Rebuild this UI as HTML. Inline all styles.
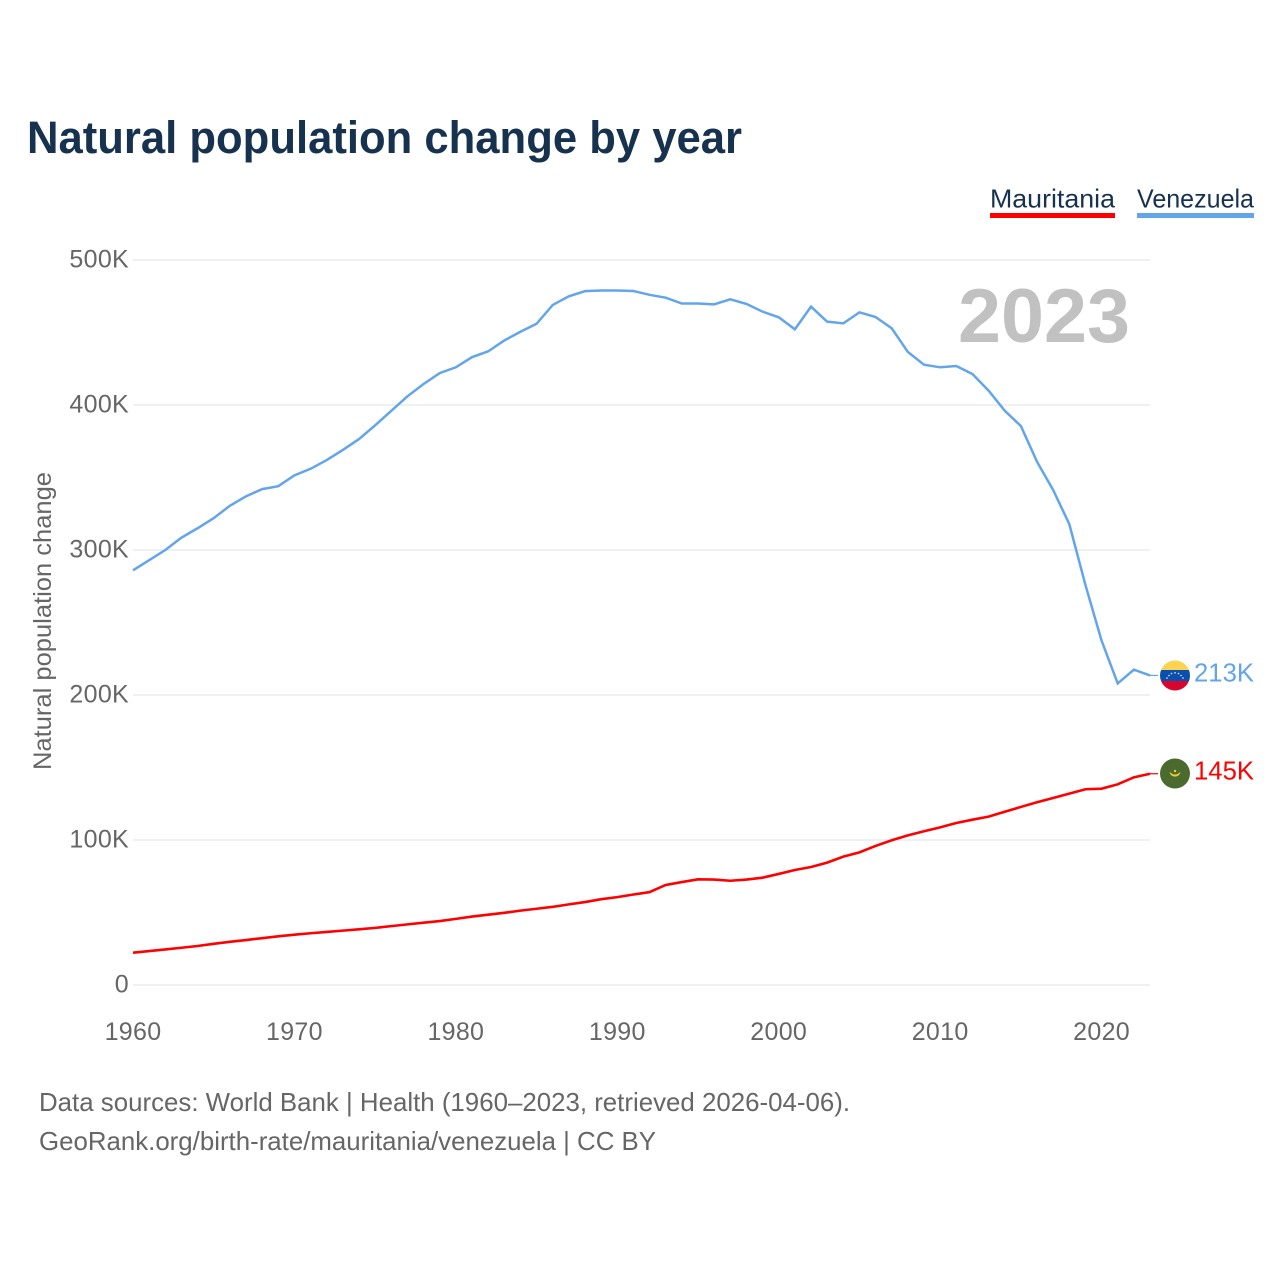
<!DOCTYPE html>
<html lang="en">
<head>
<meta charset="utf-8">
<title>Natural population change by year</title>
<style>
html,body{margin:0;padding:0;background:#fff;}
svg{display:block;font-family:"Liberation Sans",sans-serif;}
.tick{font-size:25px;fill:#666;letter-spacing:.3px;}
</style>
</head>
<body>
<svg id="chart" width="1280" height="1280" viewBox="0 0 1280 1280" xmlns="http://www.w3.org/2000/svg">
  <defs>
    <clipPath id="clip-ve"><circle cx="1175" cy="675.5" r="15"></circle></clipPath>
  </defs>
  <rect x="0" y="0" width="1280" height="1280" fill="#fff"></rect>
  <text x="27" y="153" font-size="45" font-weight="700" fill="#17324f" textLength="715" lengthAdjust="spacingAndGlyphs">Natural population change by year</text>

  <g id="grid"></g>
  <g id="yticks"></g>
  <g id="xticks"></g>
  <text transform="translate(51,770) rotate(-90)" font-size="25" fill="#666" textLength="298" lengthAdjust="spacingAndGlyphs">Natural population change</text>

  <text x="1130" y="342" text-anchor="end" font-size="76" font-weight="700" fill="#c1c1c1" textLength="172" lengthAdjust="spacingAndGlyphs">2023</text>

  <g id="series"></g>

  <g>
    <text x="990" y="207.5" font-size="26" fill="#17324f" textLength="125" lengthAdjust="spacingAndGlyphs">Mauritania</text>
    <rect x="990" y="213" width="125" height="5" fill="#ff0000"></rect>
  </g>
  <g>
    <text x="1137" y="207.5" font-size="26" fill="#17324f" textLength="117" lengthAdjust="spacingAndGlyphs">Venezuela</text>
    <rect x="1137" y="213" width="117" height="5" fill="#62a5eb"></rect>
  </g>

  <g clip-path="url(#clip-ve)">
    <rect x="1160" y="660" width="30" height="10.5" fill="#fcd450"></rect>
    <rect x="1160" y="670" width="30" height="11" fill="#0a4fb0"></rect>
    <rect x="1160" y="681" width="30" height="11" fill="#d8062f"></rect>
    <g fill="#e8f0fa">
      <circle cx="1167" cy="678" r=".8"></circle><circle cx="1169" cy="675.5" r=".8"></circle>
      <circle cx="1171.5" cy="673.5" r=".8"></circle><circle cx="1175" cy="672.8" r=".8"></circle>
      <circle cx="1178.5" cy="673.5" r=".8"></circle><circle cx="1181" cy="675.5" r=".8"></circle>
      <circle cx="1183" cy="678" r=".8"></circle>
    </g>
  </g>
  <g>
    <circle cx="1175" cy="773.5" r="15" fill="#4a6b2d"></circle>
    <path d="M1170 772.5a5.2 5.2 0 0 0 10 0a6.5 6.5 0 0 1 -10 0z" fill="#eccb3c" stroke="#eccb3c" stroke-width=".8"></path>
    <circle cx="1175" cy="771" r="1.2" fill="#eccb3c"></circle>
  </g>

  <text x="1254" y="681.5" text-anchor="end" font-size="26" fill="#62a5eb" textLength="60" lengthAdjust="spacingAndGlyphs">213K</text>
  <text x="1254" y="779.5" text-anchor="end" font-size="26" fill="#ff0000" textLength="60" lengthAdjust="spacingAndGlyphs">145K</text>

  <text x="39" y="1111" font-size="26" fill="#666" textLength="811" lengthAdjust="spacingAndGlyphs">Data sources: World Bank | Health (1960–2023, retrieved 2026-04-06).</text>
  <text x="39" y="1150" font-size="26" fill="#666" textLength="617" lengthAdjust="spacingAndGlyphs">GeoRank.org/birth-rate/mauritania/venezuela | CC BY</text>
</svg>
<script>
const years = [1960,1961,1962,1963,1964,1965,1966,1967,1968,1969,1970,1971,1972,1973,1974,1975,1976,1977,1978,1979,1980,1981,1982,1983,1984,1985,1986,1987,1988,1989,1990,1991,1992,1993,1994,1995,1996,1997,1998,1999,2000,2001,2002,2003,2004,2005,2006,2007,2008,2009,2010,2011,2012,2013,2014,2015,2016,2017,2018,2019,2020,2021,2022,2023];
const venezuela = [286,293,300,308.5,315,322,330.5,337,342,344,351.5,356,362,369,376.5,386,396,406,414.5,422,426,433,437,444.5,450.5,456,469,475,478.5,479,479,478.6,476,474,470,470,469.4,472.9,469.7,464.4,460.5,452.2,467.8,457.5,456.3,463.9,460.7,452.9,436.6,427.8,426,426.9,421.4,409.9,396.1,385.5,360.9,341.4,317.9,275.9,237.5,208,217.5,213.5];
const mauritania = [22.3,23.4,24.5,25.7,26.9,28.4,29.8,31,32.3,33.6,34.7,35.7,36.6,37.5,38.4,39.4,40.6,41.8,43,44.1,45.6,47.2,48.5,49.8,51.3,52.6,53.9,55.6,57.2,59.2,60.6,62.4,64.1,69,71,72.9,72.7,71.9,72.7,74,76.6,79.3,81.4,84.4,88.5,91.5,95.9,99.8,103.2,106,108.7,111.7,114,116.1,119.5,122.8,126,129,132,135,135.4,138.4,143.2,145.7];
const yTickValues = [0,100,200,300,400,500];
const yTickLabels = ["0","100K","200K","300K","400K","500K"];
const xTickValues = [1960,1970,1980,1990,2000,2010,2020];
const xTickLabels = ["1960","1970","1980","1990","2000","2010","2020"];

const NS = 'http://www.w3.org/2000/svg';
const xLeft = 133, xRight = 1150, yZero = 985, yTop = 260;
const yMaxValue = 500, xMin = 1960, xMax = 2023;
function xScale(year) { return xLeft + (year - xMin) * (xRight - xLeft) / (xMax - xMin); }
function yScale(value) { return yZero - value * (yZero - yTop) / yMaxValue; }

const gridGroup = document.getElementById('grid');
const yGroup = document.getElementById('yticks');
const xGroup = document.getElementById('xticks');
const seriesGroup = document.getElementById('series');

yTickValues.forEach(function (value, i) {
  const line = document.createElementNS(NS, 'line');
  
  
  line.setAttribute('x1', xLeft);
  line.setAttribute('x2', xRight);
  line.setAttribute('y1', yScale(value));
  line.setAttribute('y2', yScale(value));
  line.setAttribute('stroke', '#eeeeee');
  line.setAttribute('stroke-width', '1.8');
  gridGroup.appendChild(line);

  const label = document.createElementNS(NS, 'text');
  
  
  label.setAttribute('class', 'tick');
  label.setAttribute('x', 129);
  label.setAttribute('y', yScale(value) + 7.5);
  label.setAttribute('text-anchor', 'end');
  label.textContent = yTickLabels[i];
  yGroup.appendChild(label);
});

xTickValues.forEach(function (year, i) {
  const label = document.createElementNS(NS, 'text');
  
  
  label.setAttribute('class', 'tick');
  label.setAttribute('x', xScale(year));
  label.setAttribute('y', 1040);
  label.setAttribute('text-anchor', 'middle');
  label.textContent = xTickLabels[i];
  xGroup.appendChild(label);
});

function drawSeries(values, color, width, name) {
  const points = values.map(function (v, i) { return xScale(years[i]).toFixed(2) + ',' + yScale(v).toFixed(2); });
  const path = document.createElementNS(NS, 'polyline');
  
  
  path.setAttribute('points', points.join(' '));
  path.setAttribute('fill', 'none');
  path.setAttribute('stroke', color);
  path.setAttribute('stroke-width', width);
  path.setAttribute('stroke-linejoin', 'miter');
  seriesGroup.appendChild(path);

  const lastValue = values[values.length - 1];
  const connector = document.createElementNS(NS, 'line');
  
  
  connector.setAttribute('x1', xScale(xMax));
  connector.setAttribute('x2', xScale(xMax) + 8);
  connector.setAttribute('y1', yScale(lastValue));
  connector.setAttribute('y2', yScale(lastValue));
  connector.setAttribute('stroke', color);
  connector.setAttribute('stroke-width', '1.2');
  seriesGroup.appendChild(connector);
}

drawSeries(venezuela, '#62a5eb', 2.5, 'line-venezuela');
drawSeries(mauritania, '#ff0000', 2.6, 'line-mauritania');
</script>
</body>
</html>
